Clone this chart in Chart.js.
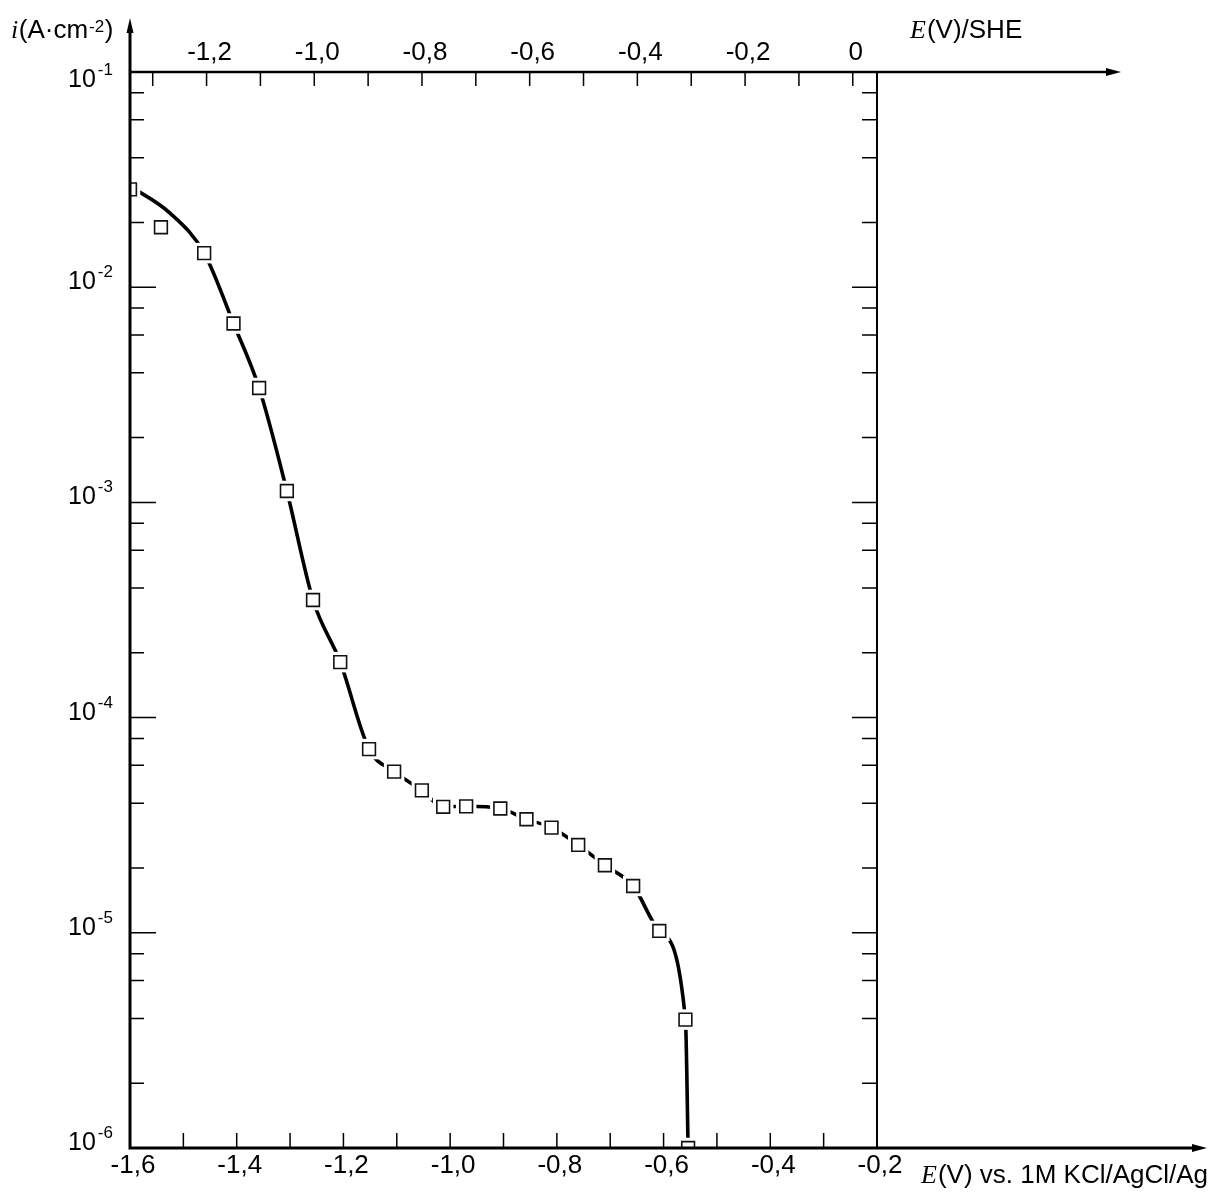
<!DOCTYPE html>
<html>
<head>
<meta charset="utf-8">
<script src="https://cdn.jsdelivr.net/npm/chart.js@4.4.1/dist/chart.umd.min.js"></script>
<style>
  html, body { margin: 0; padding: 0; background: #fff; }
  canvas { display: block; }
</style>
</head>
<body>
<canvas id="polarization" width="1213" height="1198"></canvas>
<script>
// measured squares: E (V vs 1M KCl/AgCl/Ag) and i (A/cm2)
const pointE = [-1.600, -1.542, -1.461, -1.406, -1.358, -1.306, -1.257, -1.206, -1.152, -1.105, -1.053,
                -1.013, -0.970, -0.906, -0.857, -0.810, -0.760, -0.710, -0.657, -0.608, -0.559, -0.554];
const pointI = [2.85e-2, 1.90e-2, 1.44e-2, 6.78e-3, 3.40e-3, 1.13e-3, 3.52e-4, 1.81e-4, 7.14e-5, 5.61e-5, 4.59e-5,
                3.85e-5, 3.87e-5, 3.78e-5, 3.37e-5, 3.08e-5, 2.56e-5, 2.06e-5, 1.65e-5, 1.02e-5, 3.95e-6, 1.0e-6];

// the drawn curve (it passes above the second square)
const curveE = [-1.600, -1.525, -1.461, -1.406, -1.358, -1.306, -1.257, -1.206, -1.152, -1.105, -1.053,
                -1.013, -0.970, -0.906, -0.857, -0.810, -0.760, -0.710, -0.657, -0.608, -0.559, -0.554];
const curveI = [2.95e-2, 2.21e-2, 1.44e-2, 6.78e-3, 3.40e-3, 1.13e-3, 3.52e-4, 1.81e-4, 7.14e-5, 5.61e-5, 4.59e-5,
                3.85e-5, 3.87e-5, 3.78e-5, 3.37e-5, 3.08e-5, 2.56e-5, 2.06e-5, 1.65e-5, 1.02e-5, 3.95e-6, 1.0e-6];

// axis ticks
const xTicks = [-1.6, -1.5, -1.4, -1.3, -1.2, -1.1, -1.0, -0.9, -0.8, -0.7, -0.6, -0.5, -0.4, -0.3, -0.2];
const sheTicks = [-1.3, -1.2, -1.1, -1.0, -0.9, -0.8, -0.7, -0.6, -0.5, -0.4, -0.3, -0.2, -0.1, 0];
const yDecades = [-6, -5, -4, -3, -2, -1];
const yMinor = [2, 4, 6, 8];

const sans = '"Liberation Sans", Arial, sans-serif';
const serif = '"Liberation Serif", "Times New Roman", serif';

function fmt(v) {
    const r = Math.round(v * 10);
    if (r % 2 !== 0) return '';
    if (r === 0) return '0';
    return (r / 10).toFixed(1).replace('.', ',');
}

const yTickList = [];
yDecades.forEach(d => {
    yTickList.push({ value: Math.pow(10, d), major: true });
    if (d < -1) yMinor.forEach(m => yTickList.push({ value: m * Math.pow(10, d), major: false }));
});

const markers = pointE.map((e, k) => ({ x: e, y: pointI[k] }));
const curve = curveE.map((e, k) => ({ x: e, y: curveI[k] }));

function arrow(ctx, tipX, tipY, dir) {
    // dir: 'up' or 'right'
    ctx.beginPath();
    if (dir === 'up') {
        ctx.moveTo(tipX, tipY);
        ctx.lineTo(tipX - 3.5, tipY + 15);
        ctx.lineTo(tipX + 3.5, tipY + 15);
    } else {
        ctx.moveTo(tipX, tipY);
        ctx.lineTo(tipX - 15, tipY - 4);
        ctx.lineTo(tipX - 15, tipY + 4);
    }
    ctx.closePath();
    ctx.fill();
}

const axesPlugin = {
    id: 'axesPlugin',
    afterDraw(chart) {
        const ctx = chart.ctx;
        const a = chart.chartArea;
        const xs = chart.scales.x, x2 = chart.scales.x2, ys = chart.scales.y;
        ctx.save();
        ctx.strokeStyle = '#000';
        ctx.fillStyle = '#000';

        // tick marks, all pointing inside
        ctx.lineWidth = 1.5;
        ctx.beginPath();
        xs.ticks.forEach(t => {
            const px = xs.getPixelForValue(t.value);
            ctx.moveTo(px, a.bottom); ctx.lineTo(px, a.bottom - 15);
        });
        x2.ticks.forEach(t => {
            const px = x2.getPixelForValue(t.value);
            ctx.moveTo(px, a.top); ctx.lineTo(px, a.top + 14);
        });
        ys.ticks.forEach(t => {
            const py = ys.getPixelForValue(t.value);
            const lg = Math.log10(t.value);
            const major = Math.abs(lg - Math.round(lg)) < 1e-6;
            ctx.moveTo(a.left, py); ctx.lineTo(a.left + (major ? 26 : 14), py);
            ctx.moveTo(a.right, py); ctx.lineTo(a.right - (major ? 25 : 15), py);
        });
        ctx.stroke();

        // frame lines
        ctx.lineWidth = 2;
        ctx.beginPath();
        ctx.moveTo(a.right, a.top); ctx.lineTo(a.right, a.bottom);
        ctx.stroke();

        ctx.lineWidth = 3;
        ctx.beginPath();
        ctx.moveTo(a.left, a.bottom + 1.5); ctx.lineTo(a.left, 30);
        ctx.moveTo(a.left - 1.5, a.bottom); ctx.lineTo(1195, a.bottom);
        ctx.stroke();
        ctx.lineWidth = 2.6;
        ctx.beginPath();
        ctx.moveTo(a.left, a.top); ctx.lineTo(1110, a.top);
        ctx.stroke();
        arrow(ctx, a.left, 18, 'up');
        arrow(ctx, 1121, a.top, 'right');
        arrow(ctx, 1207, a.bottom, 'right');

        // y tick labels 10^n
        ctx.textBaseline = 'alphabetic';
        ctx.textAlign = 'left';
        yDecades.forEach(d => {
            const py = ys.getPixelForValue(Math.pow(10, d));
            const base = py + (d === -1 ? 15 : 2);
            ctx.font = '25px ' + sans;
            ctx.fillText('10', 68, base);
            const w = ctx.measureText('10').width;
            ctx.font = '17px ' + sans;
            ctx.fillText('-' + Math.abs(d), 68 + w + 2, base - 12);
        });

        // axis titles
        let x = 11;
        ctx.font = 'italic 26px ' + serif;
        ctx.fillText('i', x, 38);
        x += ctx.measureText('i').width + 0.5;
        ctx.font = '26px ' + sans;
        ctx.fillText('(A\u00b7cm', x, 38);
        x += ctx.measureText('(A\u00b7cm').width + 1;
        ctx.font = '17px ' + sans;
        ctx.fillText('-2', x, 31.5);
        x += ctx.measureText('-2').width + 0.5;
        ctx.font = '26px ' + sans;
        ctx.fillText(')', x, 38);

        x = 910;
        ctx.font = 'italic 26px ' + serif;
        ctx.fillText('E', x, 38);
        x += ctx.measureText('E').width + 1;
        ctx.font = '26px ' + sans;
        ctx.fillText('(V)/SHE', x, 38);

        x = 921;
        ctx.font = 'italic 26px ' + serif;
        ctx.fillText('E', x, 1183);
        x += ctx.measureText('E').width + 1;
        ctx.font = '26px ' + sans;
        ctx.fillText('(V) vs. 1M KCl/AgCl/Ag', x, 1183);
        ctx.restore();
    }
};

const ctx = document.getElementById('polarization').getContext('2d');
new Chart(ctx, {
    type: 'line',
    data: {
        datasets: [
            {
                data: markers,
                showLine: false,
                pointStyle: 'rect',
                pointRadius: 9,
                pointBorderWidth: 1.6,
                pointBorderColor: '#111',
                pointBackgroundColor: '#fff',
                order: 1,
                clip: 0,
            },
            {
                // white halo that breaks the curve around each square
                data: markers,
                showLine: false,
                pointStyle: 'rect',
                pointRadius: 14.5,
                pointBorderWidth: 0,
                pointBorderColor: '#fff',
                pointBackgroundColor: '#fff',
                order: 2,
                clip: 0,
            },
            {
                data: curve,
                borderColor: '#000',
                borderWidth: 3.6,
                pointRadius: 0,
                cubicInterpolationMode: 'monotone',
                fill: false,
                order: 3,
                clip: 0,
            }
        ],
    },
    options: {
        responsive: false,
        animation: false,
        events: [],
        layout: { padding: { left: 0, right: 336, top: 0, bottom: 0 } },
        plugins: { legend: { display: false }, tooltip: { enabled: false } },
        scales: {
            x: {
                type: 'linear',
                position: 'bottom',
                min: -1.6,
                max: -0.2,
                afterBuildTicks: s => { s.ticks = xTicks.map(v => ({ value: v })); },
                afterFit: s => { s.height = 50; },
                grid: { display: false, drawTicks: false },
                border: { display: false },
                ticks: {
                    callback: fmt,
                    font: { family: sans, size: 26 },
                    color: '#000',
                    padding: 2,
                    labelOffset: 3,
                    maxRotation: 0,
                    autoSkip: false,
                },
            },
            x2: {
                type: 'linear',
                position: 'top',
                min: -1.3422,
                max: 0.045,
                afterBuildTicks: s => { s.ticks = sheTicks.map(v => ({ value: v })); },
                afterFit: s => { s.height = 72; },
                grid: { display: false, drawTicks: false },
                border: { display: false },
                ticks: {
                    callback: fmt,
                    font: { family: sans, size: 26 },
                    color: '#000',
                    padding: 4,
                    labelOffset: 3,
                    maxRotation: 0,
                    autoSkip: false,
                },
            },
            y: {
                type: 'logarithmic',
                position: 'left',
                min: 1e-6,
                max: 1e-1,
                afterBuildTicks: s => { s.ticks = yTickList.map(t => ({ value: t.value, major: t.major })); },
                afterFit: s => { s.width = 130; },
                grid: { display: false, drawTicks: false },
                border: { display: false },
                ticks: { display: false },
            },
        },
    },
    plugins: [axesPlugin],
});
</script>
</body>
</html>
